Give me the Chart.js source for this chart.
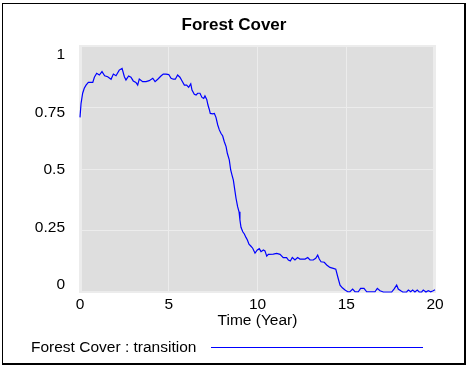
<!DOCTYPE html>
<html>
<head>
<meta charset="utf-8">
<script src="https://cdn.jsdelivr.net/npm/chart.js@4.4.1/dist/chart.umd.min.js"></script>
<style>
  html, body { margin: 0; padding: 0; background: #fff; }
</style>
</head>
<body>
<canvas id="chart" width="468" height="367"></canvas>
<script>
'use strict';

// ── Data ────────────────────────────────────────────────────────────────────

const years = [
  0.00, 0.06, 0.15, 0.24, 0.34, 0.47, 0.72, 0.81, 0.94, 1.09,
  1.24, 1.39, 1.56, 1.75, 1.88, 2.03, 2.21, 2.37, 2.50, 2.59,
  2.74, 2.87, 3.00, 3.15, 3.25, 3.34, 3.53, 3.72, 3.90, 4.10,
  4.23, 4.38, 4.56, 4.69, 4.85, 5.00, 5.13, 5.26, 5.37, 5.50,
  5.63, 5.75, 5.88, 6.01, 6.12, 6.24, 6.31, 6.44, 6.54, 6.63,
  6.76, 6.87, 6.97, 7.04, 7.14, 7.21, 7.28, 7.34, 7.48, 7.57,
  7.66, 7.76, 7.85, 7.94, 8.04, 8.13, 8.23, 8.30, 8.41, 8.49,
  8.56, 8.64, 8.72, 8.79, 8.88, 8.96, 9.01, 9.07, 9.17, 9.26,
  9.35, 9.43, 9.52, 9.62, 9.73, 9.86, 9.99, 10.10, 10.20, 10.33,
  10.42, 10.52, 10.61, 10.89, 11.08, 11.27, 11.45, 11.64, 11.74, 11.85,
  11.96, 12.11, 12.26, 12.39, 12.68, 12.83, 12.96, 13.14, 13.28, 13.39,
  13.48, 13.58, 13.76, 13.90, 14.08, 14.27, 14.41, 14.52, 14.65, 14.78,
  14.93, 15.08, 15.21, 15.36, 15.49, 15.68, 15.81, 16.00, 16.15, 16.62,
  16.75, 16.90, 17.09, 17.56, 17.69, 17.84, 17.93, 18.07, 18.18, 18.40,
  18.50, 18.63, 18.74, 18.87, 19.00, 19.11, 19.25, 19.34, 19.49, 19.62,
  19.76, 19.90, 20.00,
];

const forestCover = [
  0.710, 0.767, 0.808, 0.828, 0.841, 0.852, 0.852, 0.873, 0.889, 0.882,
  0.896, 0.879, 0.875, 0.865, 0.886, 0.879, 0.902, 0.909, 0.875, 0.862,
  0.878, 0.873, 0.858, 0.852, 0.841, 0.866, 0.855, 0.855, 0.859, 0.869,
  0.855, 0.865, 0.878, 0.886, 0.886, 0.884, 0.869, 0.865, 0.865, 0.882,
  0.873, 0.858, 0.841, 0.841, 0.832, 0.846, 0.821, 0.804, 0.801, 0.808,
  0.808, 0.791, 0.787, 0.797, 0.783, 0.760, 0.743, 0.726, 0.724, 0.726,
  0.710, 0.679, 0.659, 0.645, 0.634, 0.611, 0.591, 0.564, 0.537, 0.496,
  0.476, 0.455, 0.415, 0.381, 0.347, 0.326, 0.293, 0.263, 0.245, 0.236,
  0.222, 0.211, 0.194, 0.187, 0.178, 0.158, 0.171, 0.176, 0.164, 0.171,
  0.167, 0.146, 0.153, 0.154, 0.157, 0.153, 0.140, 0.140, 0.130, 0.126,
  0.140, 0.130, 0.140, 0.134, 0.134, 0.140, 0.130, 0.130, 0.137, 0.150,
  0.134, 0.123, 0.121, 0.110, 0.100, 0.096, 0.093, 0.062, 0.028, 0.017,
  0.008, 0.001, 0.001, 0.012, 0.001, 0.001, 0.015, 0.015, 0.001, 0.001,
  0.015, 0.005, 0.000, 0.000, 0.012, 0.028, 0.012, 0.005, 0.000, 0.000,
  0.008, 0.001, 0.008, 0.000, 0.008, 0.000, 0.000, 0.008, 0.000, 0.005,
  0.001, 0.005, 0.009,
];

const xTicks = [0, 5, 10, 15, 20];
const yTicks = [0, 0.25, 0.5, 0.75, 1];

const SERIES_LABEL = 'Forest Cover : transition';

// ── Style ───────────────────────────────────────────────────────────────────

const FONT      = "'Liberation Sans', Arial, sans-serif";
const PLOT_BG   = '#dedede';
const GRID      = '#ececec';
const LINE_BLUE = '#0000ff';

// Vensim draws the y labels a little inside the plot ends; a label-only
// axis over a slightly wider range reproduces that.
const LABEL_MIN = -0.0305;
const LABEL_MAX = 1.0391;

// ── Plugins ─────────────────────────────────────────────────────────────────

const frame = {
  id: 'frame',
  beforeDraw(chart) {
    const { ctx, chartArea: a } = chart;
    ctx.save();
    ctx.fillStyle = '#fff';
    ctx.fillRect(0, 0, chart.width, chart.height);
    ctx.fillStyle = GRID;
    ctx.fillRect(a.left - 1, a.top - 1, a.width + 2, a.height + 2);
    ctx.fillStyle = PLOT_BG;
    ctx.fillRect(a.left + 2, a.top + 1, a.width - 4, a.height - 2);
    ctx.restore();
  },
  afterDraw(chart) {
    const { ctx } = chart;
    ctx.save();
    // outer frame
    ctx.fillStyle = '#000';
    ctx.fillRect(2, 3, 1, 361);
    ctx.fillRect(2, 3, 464, 1);
    ctx.fillRect(464, 3, 2, 362);
    ctx.fillRect(2, 363, 464, 2);
    // legend row: label, then a sample of the series line
    const ds = chart.data.datasets[0];
    ctx.font = '15.5px ' + FONT;
    ctx.fillStyle = '#000';
    ctx.textBaseline = 'alphabetic';
    ctx.fillText(ds.label, 31, 352);
    ctx.fillStyle = LINE_BLUE;
    ctx.fillRect(211, 347, 212, 1);
    ctx.restore();
  },
};

// ── Chart ───────────────────────────────────────────────────────────────────

const fixTicks = list => scale => { scale.ticks = list.map(v => ({ value: v })); };

new Chart(document.getElementById('chart'), {
  type: 'line',
  data: {
    datasets: [{
      label: SERIES_LABEL,
      data: years.map((t, i) => ({ x: t, y: forestCover[i] })),
      borderColor: LINE_BLUE,
      backgroundColor: LINE_BLUE,
      borderWidth: 1.2,
      pointRadius: 0,
      tension: 0,
      clip: 4,
      xAxisID: 'x',
      yAxisID: 'y',
    }],
  },
  options: {
    responsive: false,
    animation: false,
    devicePixelRatio: 1,
    layout: { padding: { left: 2, right: 2, top: 0, bottom: 27 } },
    plugins: {
      legend: { display: false },
      tooltip: { enabled: false },
      title: {
        display: true,
        text: 'Forest Cover',
        color: '#000',
        font: { family: FONT, size: 17, weight: 'bold' },
        padding: { top: 15, bottom: 10.6 },
      },
    },
    scales: {
      x: {
        type: 'linear',
        position: 'bottom',
        min: 0,
        max: 20,
        afterBuildTicks: fixTicks(xTicks),
        afterFit: s => { s.height = 48; },
        grid: { color: GRID, lineWidth: 1, drawTicks: false },
        border: { display: false },
        ticks: {
          color: '#000',
          padding: 3,
          maxRotation: 0,
          font: { family: FONT, size: 15.5 },
          callback: v => String(v),
        },
        title: {
          display: true,
          text: 'Time (Year)',
          color: '#000',
          font: { family: FONT, size: 15.5 },
          padding: { top: 0, bottom: 9.5 },
        },
      },
      y: {
        type: 'linear',
        position: 'left',
        min: 0,
        max: 1,
        afterBuildTicks: fixTicks(yTicks),
        afterFit: s => { s.width = 0; },
        grid: { color: GRID, lineWidth: 1, drawTicks: false },
        border: { display: false },
        ticks: { display: false },
      },
      yl: {
        type: 'linear',
        position: 'left',
        min: LABEL_MIN,
        max: LABEL_MAX,
        afterBuildTicks: fixTicks(yTicks),
        afterFit: s => { s.width = 78; },
        grid: { display: false, drawTicks: false },
        border: { display: false },
        ticks: {
          color: '#000',
          padding: 15,
          font: { family: FONT, size: 15.5 },
          callback: v => String(v),
        },
      },
      pad: {
        type: 'linear',
        position: 'right',
        afterFit: s => { s.width = 31; },
        grid: { display: false, drawTicks: false },
        border: { display: false },
        ticks: { display: false },
      },
    },
  },
  plugins: [frame],
});
</script>
</body>
</html>
